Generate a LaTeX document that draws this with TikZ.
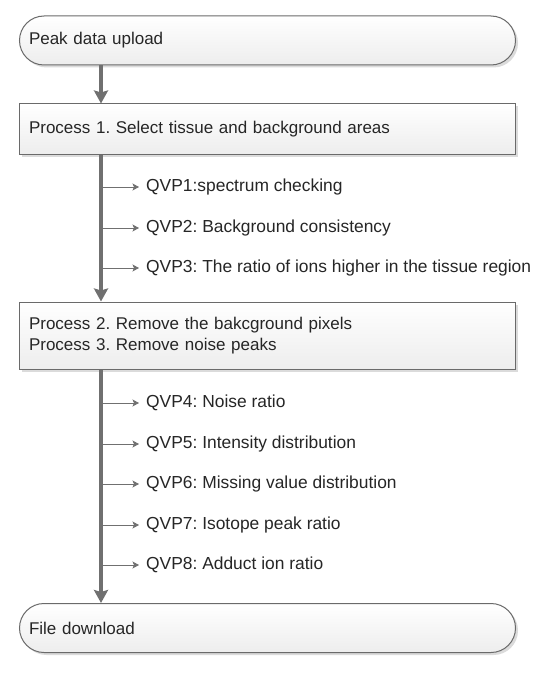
\documentclass[tikz,border=0pt]{standalone}
\usepackage{fontspec}
\setmainfont{Liberation Sans}
\usetikzlibrary{arrows.meta,shadows}
\definecolor{edgegray}{HTML}{6A6A6A}
\definecolor{linegray}{HTML}{707070}
\definecolor{txt}{HTML}{262626}
\definecolor{fillbot}{HTML}{EDEDED}
\frenchspacing
\tikzset{
  basebox/.style={draw=edgegray, line width=1pt, top color=white, bottom color=fillbot,
    minimum width=496pt, text width=477pt, inner xsep=9.5pt, align=left,
    text=txt, font=\fontsize{17}{20.8}\selectfont,
    drop shadow={shadow xshift=2.5pt, shadow yshift=-2.5pt, fill=black!14, opacity=1}},
  pill/.style={basebox, rounded corners=24.5pt, minimum height=49pt},
  procbox/.style={basebox},
  trunk/.style={draw=linegray, line width=4pt, -{Stealth[width=14pt,length=13pt,inset=2pt]}},
  branch/.style={draw=linegray, line width=0.9pt, -{Stealth[width=7pt,length=6.5pt,inset=1.5pt]}},
  qvp/.style={anchor=west, inner sep=0pt, text=txt, font=\fontsize{17.4}{20.8}\selectfont},
}
\begin{document}
\begin{tikzpicture}[x=1pt,y=-1pt]
\useasboundingbox (0,0) rectangle (548,674);
\fill[white] (0,0) rectangle (548,674);

\node[pill] (start) at (267.5,40.5) {Peak data upload};
\node[procbox, minimum height=50pt] (p1) at (267.5,129) {Process 1. Select tissue and background areas};
\node[procbox, minimum height=67pt] (p2) at (267.5,335.5) {Process 2. Remove the bakcground pixels\\Process 3. Remove noise peaks};
\node[pill] (end) at (267.5,628) {File download};

\draw[trunk] (101,0 |- start.south) -- (101,0 |- p1.north);
\draw[trunk] (101,0 |- p1.south) -- (101,0 |- p2.north);
\draw[trunk] (101,0 |- p2.south) -- (101,0 |- end.north);

\node[qvp] (q1) at (146,187) {QVP1:spectrum checking};
\node[qvp] (q2) at (146,228) {QVP2: Background consistency};
\node[qvp] (q3) at (146,268) {QVP3: The ratio of ions higher in the tissue region};
\node[qvp] (q4) at (146,403) {QVP4: Noise ratio};
\node[qvp] (q5) at (146,444) {QVP5: Intensity distribution};
\node[qvp] (q6) at (146,484) {QVP6: Missing value distribution};
\node[qvp] (q7) at (146,525) {QVP7: Isotope peak ratio};
\node[qvp] (q8) at (146,565) {QVP8: Adduct ion ratio};

\foreach \q in {q1,q2,q3,q4,q5,q6,q7,q8}{
  \coordinate (b\q) at (101,0 |- \q.west);
  \draw[branch] (b\q) -- ([xshift=-7pt]\q.west);
}
\end{tikzpicture}
\end{document}
